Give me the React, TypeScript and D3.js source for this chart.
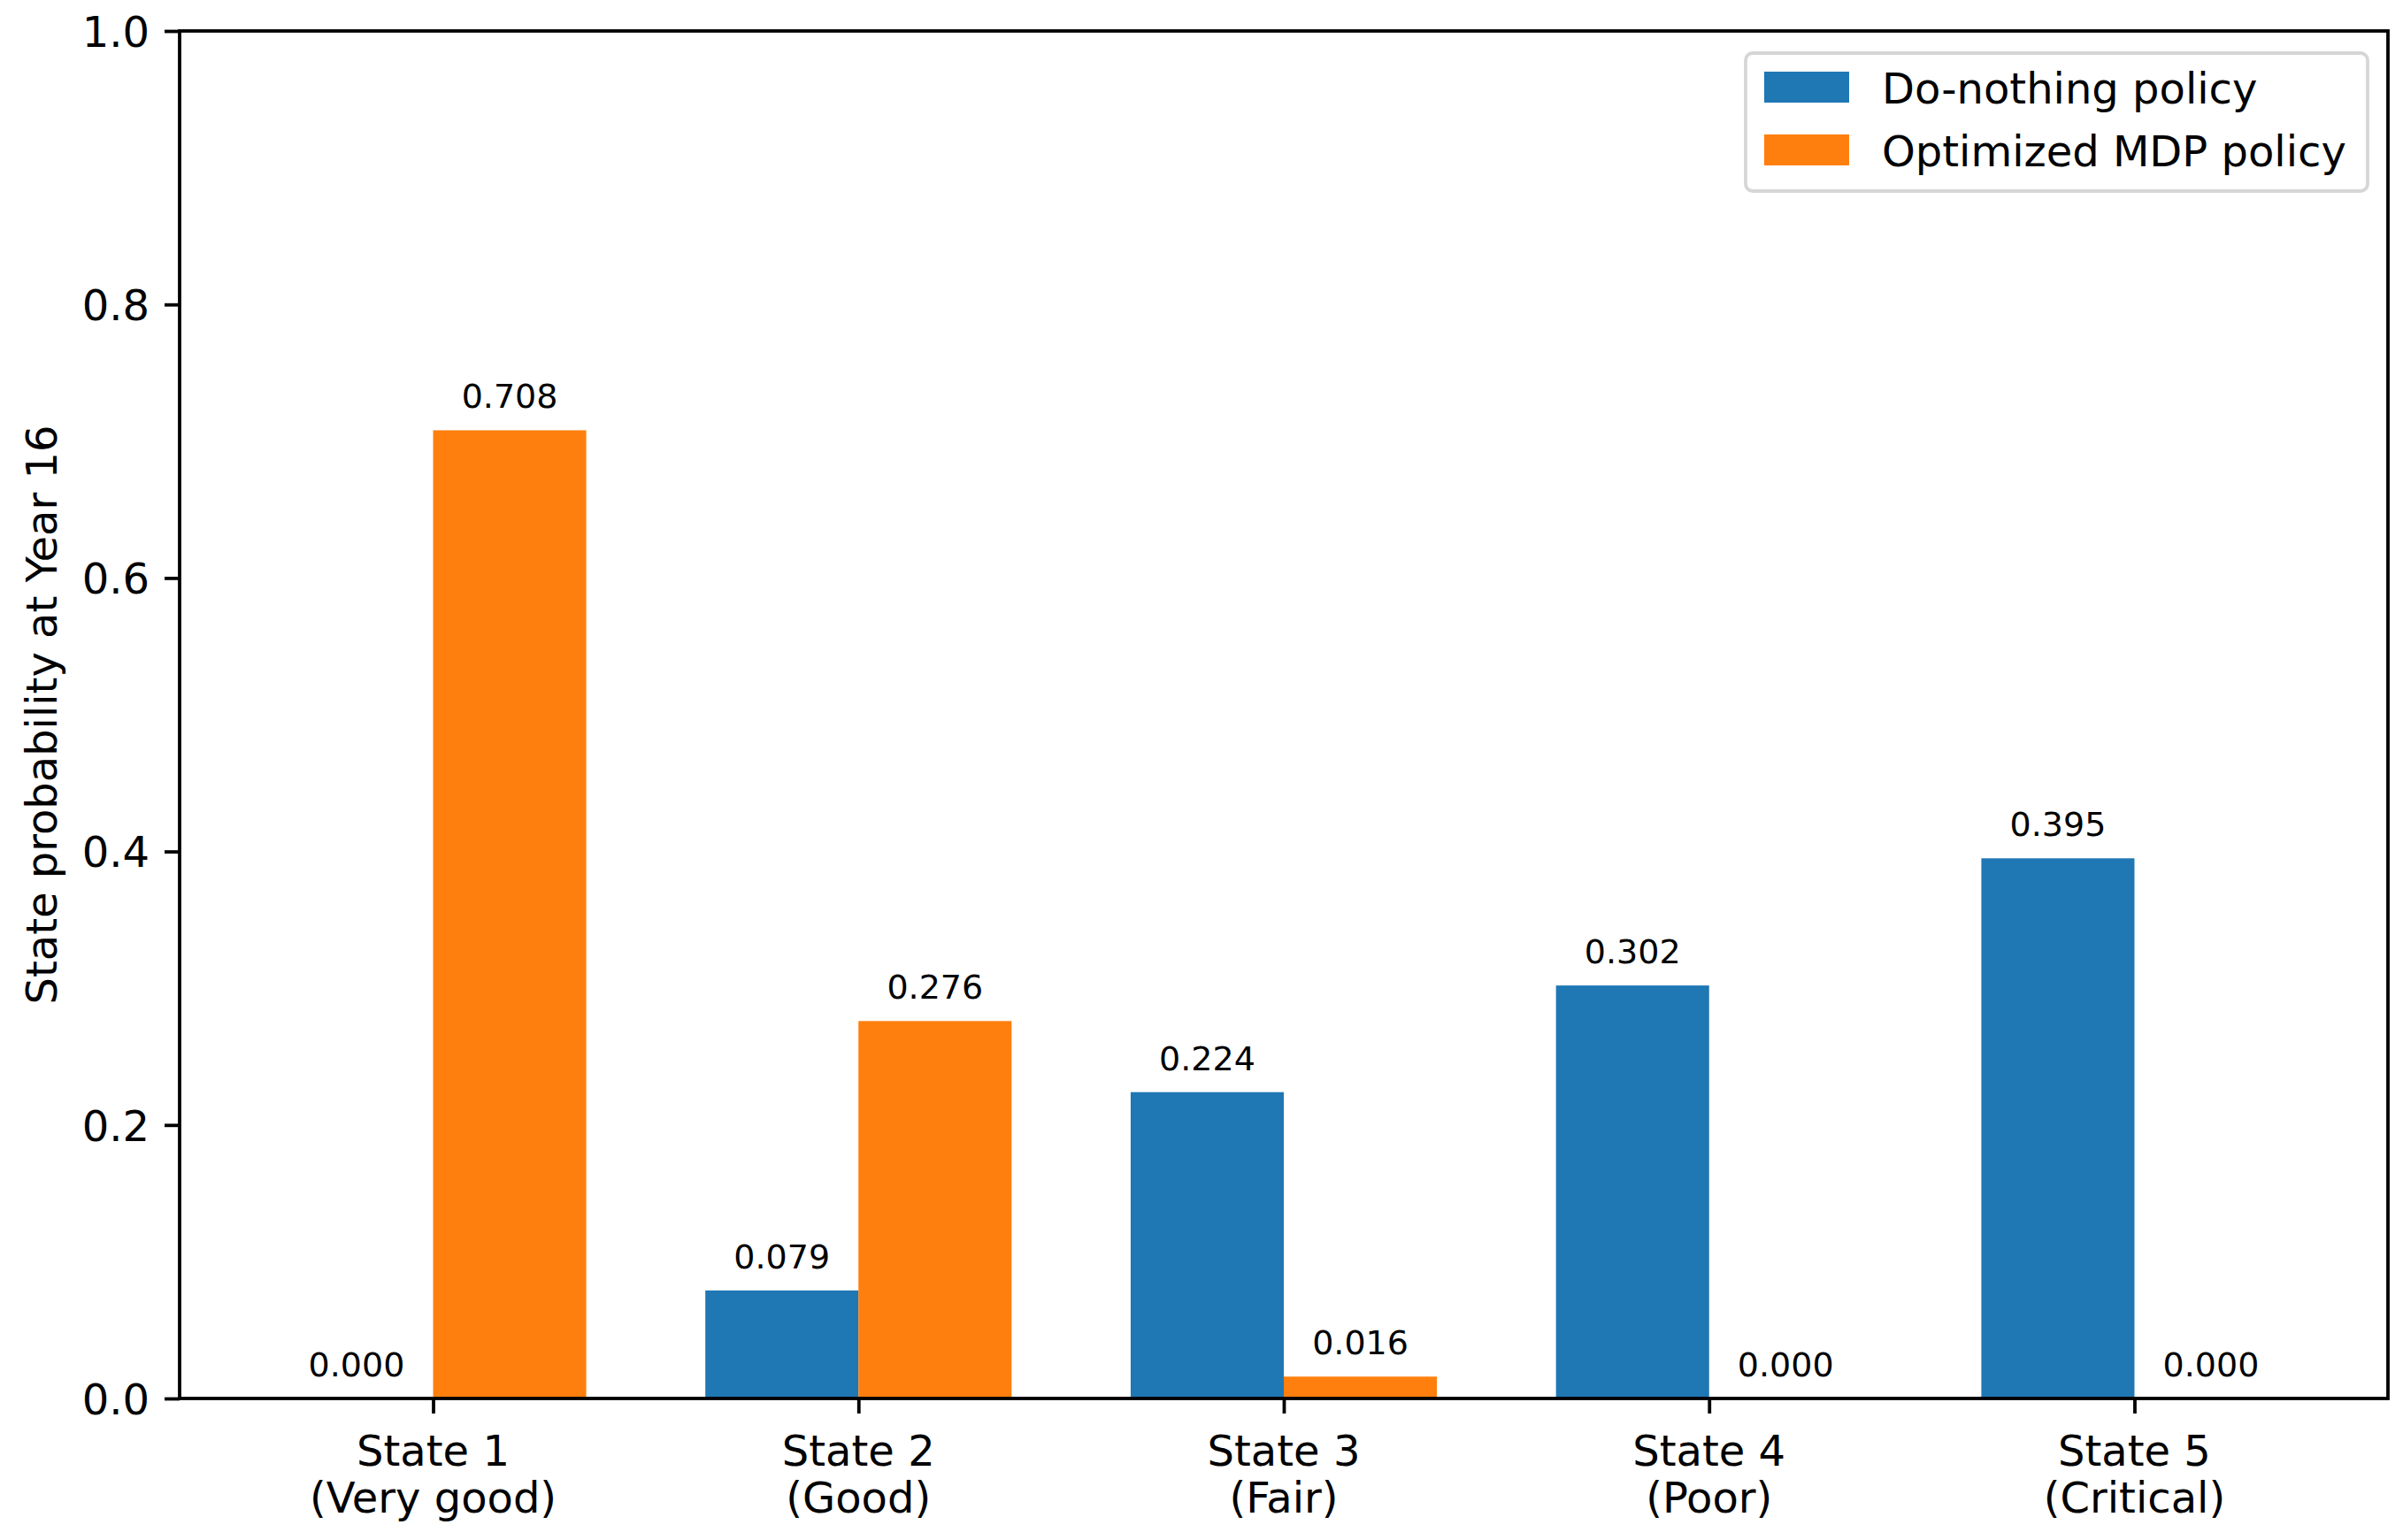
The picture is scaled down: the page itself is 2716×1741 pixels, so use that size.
import * as d3 from "d3";
import React, { useEffect, useRef } from "react";

// states along the x axis, each with two label lines
const stateNames = ["State 1", "State 2", "State 3", "State 4", "State 5"];
const stateConditions = ["(Very good)", "(Good)", "(Fair)", "(Poor)", "(Critical)"];

// state probability at year 16
const doNothing = [0.0, 0.079, 0.224, 0.302, 0.395];
const optimizedMdp = [0.708, 0.276, 0.016, 0.0, 0.0];

const seriesNames = ["Do-nothing policy", "Optimized MDP policy"];
const yTicks = [0, 0.2, 0.4, 0.6, 0.8, 1.0];

const BLUE = "#1f77b4";
const ORANGE = "#ff7f0e";
const FONT = "'DejaVu Sans', sans-serif";

const W = 2716;
const H = 1741;

const App = (): JSX.Element => {
	const svgRef = useRef<SVGSVGElement | null>(null);

	useEffect(() => {
		const margin = { top: 35, right: 17, bottom: 160, left: 203 };
		const width = W - margin.left - margin.right;
		const height = H - margin.top - margin.bottom;
		const barWidth = 0.36;

		const root = d3.select(svgRef.current);
		const svg = root.append("g").attr("transform", `translate(${margin.left},${margin.top})`);

		// x in category units, matplotlib-style margins around the bars
		const pad = barWidth + 0.05 * (stateNames.length - 1 + 2 * barWidth);
		const x = d3
			.scaleLinear()
			.domain([-pad, stateNames.length - 1 + pad])
			.range([0, width]);
		const y = d3.scaleLinear().domain([0, 1]).range([height, 0]);
		const bw = x(barWidth) - x(0);

		// Y axis
		const yAxis = svg
			.append("g")
			.call(
				d3
					.axisLeft(y)
					.tickValues(yTicks)
					.tickFormat(d3.format(".1f"))
					.tickSize(17)
					.tickSizeOuter(0)
					.tickPadding(17)
			);
		yAxis.select(".domain").remove();
		yAxis.selectAll("line").attr("stroke", "#000").attr("stroke-width", 3.8);
		yAxis
			.selectAll("text")
			.attr("font-family", FONT)
			.attr("font-size", 48)
			.attr("fill", "#000")
			.attr("dy", "0.36em");

		// X axis ticks
		const xAxis = svg
			.append("g")
			.attr("transform", `translate(0,${height})`)
			.call(
				d3
					.axisBottom(x)
					.tickValues(d3.range(stateNames.length))
					.tickFormat(() => "")
					.tickSize(17)
					.tickSizeOuter(0)
			);
		xAxis.select(".domain").remove();
		xAxis.selectAll("line").attr("stroke", "#000").attr("stroke-width", 3.8);

		const xLabels = svg
			.append("g")
			.selectAll("text")
			.data(stateNames)
			.join("text")
			.attr("font-family", FONT)
			.attr("font-size", 48)
			.attr("text-anchor", "middle")
			.attr("fill", "#000");
		xLabels
			.append("tspan")
			.attr("x", (_, i) => x(i))
			.attr("y", height + 76)
			.text((d) => d);
		xLabels
			.append("tspan")
			.attr("x", (_, i) => x(i))
			.attr("y", height + 129)
			.text((_, i) => stateConditions[i]);

		// Bars
		const series = [
			{ values: doNothing, color: BLUE, offset: -barWidth / 2 },
			{ values: optimizedMdp, color: ORANGE, offset: barWidth / 2 },
		];
		series.forEach((s) => {
			svg.append("g")
				.selectAll("rect")
				.data(s.values)
				.join("rect")
				.attr("x", (_, i) => x(i + s.offset) - bw / 2)
				.attr("y", (d) => y(d))
				.attr("width", bw)
				.attr("height", (d) => height - y(d))
				.attr("fill", s.color);

			svg.append("g")
				.selectAll("text")
				.data(s.values)
				.join("text")
				.attr("x", (_, i) => x(i + s.offset))
				.attr("y", (d) => y(d) - 25)
				.attr("text-anchor", "middle")
				.attr("font-family", FONT)
				.attr("font-size", 38)
				.attr("fill", "#000")
				.text((d) => d3.format(".3f")(d));
		});

		// frame
		svg.append("rect")
			.attr("width", width)
			.attr("height", height)
			.attr("fill", "none")
			.attr("stroke", "#000")
			.attr("stroke-width", 3.8);

		// Y label
		svg.append("text")
			.attr("transform", `translate(${64 - margin.left},${height / 2}) rotate(-90)`)
			.attr("text-anchor", "middle")
			.attr("font-family", FONT)
			.attr("font-size", 48)
			.attr("fill", "#000")
			.text("State probability at Year 16");

		// Legend
		const legend = root.append("g").attr("transform", "translate(1973,60)");
		legend
			.append("rect")
			.attr("width", 703)
			.attr("height", 156)
			.attr("rx", 8)
			.attr("fill", "#fff")
			.attr("fill-opacity", 0.8)
			.attr("stroke", "#d6d6d6")
			.attr("stroke-width", 3.8);
		const items = legend
			.selectAll("g")
			.data(seriesNames)
			.join("g")
			.attr("transform", (_, i) => `translate(0,${i * 71})`);
		items
			.append("rect")
			.attr("x", 21)
			.attr("y", 21)
			.attr("width", 96)
			.attr("height", 35)
			.attr("fill", (_, i) => (i === 0 ? BLUE : ORANGE));
		items
			.append("text")
			.attr("x", 154)
			.attr("y", 57)
			.attr("font-family", FONT)
			.attr("font-size", 48)
			.attr("fill", "#000")
			.text((d) => d);

		return () => {
			root.selectAll("*").remove();
		};
	}, []);

	return (
		<svg
			ref={svgRef}
			width={W}
			height={H}
			style={{ position: "absolute", left: 0, top: 0, background: "#fff" }}
		/>
	);
};

export default App;
